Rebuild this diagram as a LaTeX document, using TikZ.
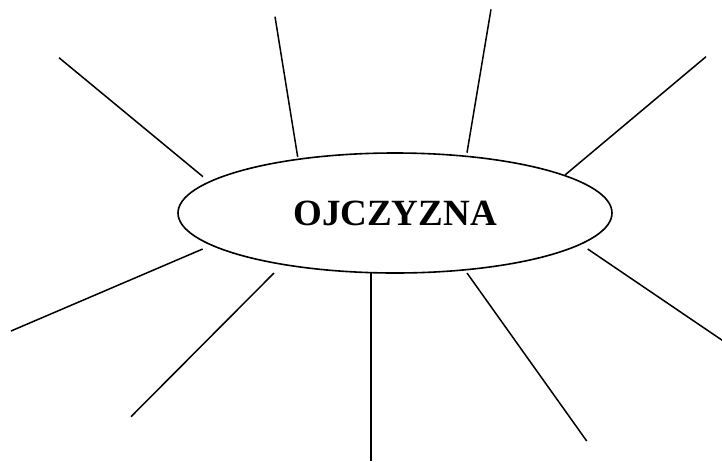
\documentclass[tikz,border=0pt]{standalone}
\usepackage{fontspec}
\setmainfont{Liberation Serif}
\usetikzlibrary{shapes.geometric}

\begin{document}
\begin{tikzpicture}[x=1pt,y=-1pt,line width=1.5pt]
\useasboundingbox (0,0) rectangle (722,461);
\node[draw,ellipse,line width=1.6pt,minimum width=434pt,minimum height=120pt,inner sep=0pt,font=\fontsize{37}{40}\selectfont\bfseries] (ojczyzna) at (395,213) {OJCZYZNA};
% rays
\foreach \n/\xa/\ya/\xb/\yb in {1/203/176.7/59/57.7, 2/297.7/157/275/16.7, 3/467/152.7/491/9.3, 4/565/175/706/56.7, 5/202.7/249/11/331, 6/274/273/131/416.7, 7/371/273/371/461, 8/467/273/586.7/441, 9/587.7/249/724/341.5} {
  \coordinate (in\n) at (\xa,\ya);
  \coordinate (out\n) at (\xb,\yb);
  \draw (in\n) -- (out\n);
}
\end{tikzpicture}
\end{document}
